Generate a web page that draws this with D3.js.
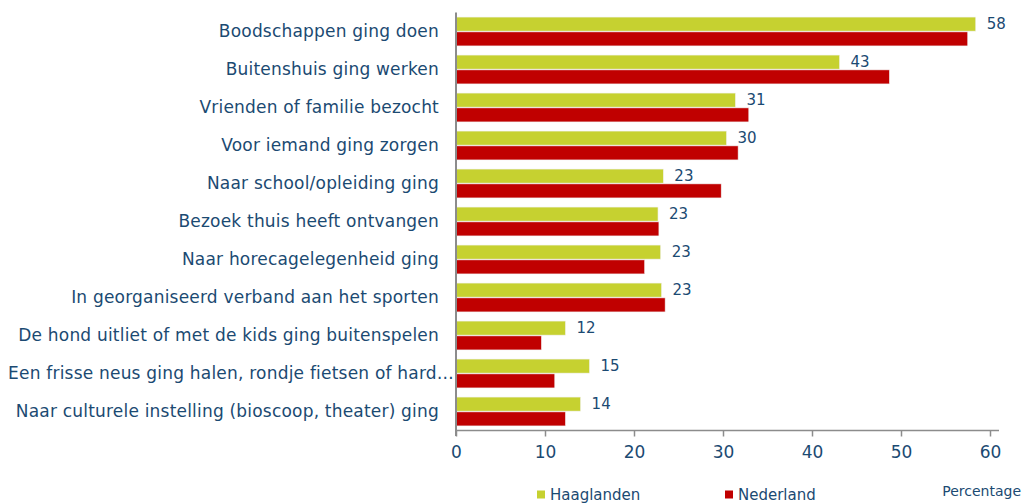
<!DOCTYPE html>
<html>
<head>
<meta charset="utf-8">
<script src="https://cdn.jsdelivr.net/npm/d3@7"></script>
<style>
  body { margin: 0; background: #fff; }
  svg { font-family: 'DejaVu Sans', Verdana, sans-serif; }
</style>
</head>
<body>
<div class="graphic_container"></div>
<script>
// categories, top to bottom
const categories = [
  'Boodschappen ging doen',
  'Buitenshuis ging werken',
  'Vrienden of familie bezocht',
  'Voor iemand ging zorgen',
  'Naar school/opleiding ging',
  'Bezoek thuis heeft ontvangen',
  'Naar horecagelegenheid ging',
  'In georganiseerd verband aan het sporten',
  'De hond uitliet of met de kids ging buitenspelen',
  'Een frisse neus ging halen, rondje fietsen of hard\u2026',
  'Naar culturele instelling (bioscoop, theater) ging'
];

const seriesNames = ['Haaglanden', 'Nederland'];
const haaglanden = [58.4, 43.1, 31.4, 30.4, 23.3, 22.7, 23.0, 23.1, 12.3, 15.0, 14.0];
const nederland = [57.5, 48.7, 32.9, 31.7, 29.8, 22.8, 21.2, 23.5, 9.6, 11.1, 12.3];
const xTicks = [0, 10, 20, 30, 40, 50, 60];

const colors = {Haaglanden: '#c6d130', Nederland: '#c00000'};
const textColor = '#1b4a72';

const width = 1023, height = 503;

const svg = d3.select('.graphic_container')
  .append('svg')
  .attr('width', width)
  .attr('height', height);

const x = d3.scaleLinear()
  .domain([0, 60])
  .range([456, 990]);

const y = d3.scaleBand()
  .domain(categories)
  .range([12.5, 430.5])
  .paddingInner(0.24)
  .paddingOuter(0.12);

const ySub = d3.scaleBand()
  .domain(seriesNames)
  .range([0, y.bandwidth()])
  .paddingInner(0.05);

const rows = categories.map((c, i) => ({
  name: c,
  values: [
    {series: 'Haaglanden', value: haaglanden[i]},
    {series: 'Nederland', value: nederland[i]}
  ]
}));

//bars
const groups = svg.append('g')
  .selectAll('g')
  .data(rows)
  .join('g')
  .attr('transform', d => `translate(0,${y(d.name)})`);

groups.selectAll('rect')
  .data(d => d.values)
  .join('rect')
  .attr('x', x(0))
  .attr('y', d => ySub(d.series))
  .attr('width', d => x(d.value) - x(0))
  .attr('height', ySub.bandwidth())
  .style('fill', d => colors[d.series])
  .style('stroke', '#f2f2f2')
  .style('stroke-width', 0.6);

//value labels, only Haaglanden
groups.append('text')
  .attr('x', d => x(d.values[0].value) + 11)
  .attr('y', ySub('Haaglanden') + ySub.bandwidth() / 2)
  .attr('dy', '0.36em')
  .style('font-size', '15px')
  .style('fill', textColor)
  .text(d => d3.format('.0f')(d.values[0].value));

//x axis
const xAxis = svg.append('g')
  .attr('transform', 'translate(0,430.5)')
  .call(d3.axisBottom(x).tickValues(xTicks).tickSize(6).tickPadding(9).tickSizeOuter(0));

xAxis.select('.domain')
  .attr('d', `M${x(0)},0H999`)
  .style('stroke', '#8c8c8c')
  .style('stroke-width', 1.5);
xAxis.selectAll('.tick line').style('stroke', '#8c8c8c').style('stroke-width', 1.5);
xAxis.selectAll('.tick text')
  .style('font-family', "'DejaVu Sans', Verdana, sans-serif")
  .style('font-size', '17px')
  .style('fill', textColor);

//y axis
const yAxis = svg.append('g')
  .attr('transform', `translate(${x(0)},0)`)
  .call(d3.axisLeft(y).tickSize(0).tickPadding(17).tickSizeOuter(0));

yAxis.select('.domain')
  .attr('d', 'M0,12.5V436')
  .style('stroke', '#8c8c8c')
  .style('stroke-width', 2);
yAxis.selectAll('.tick text')
  .style('font-family', "'DejaVu Sans', Verdana, sans-serif")
  .style('font-size', '17px')
  .style('letter-spacing', '0.2px')
  .style('fill', textColor);

//the truncated label runs up to the axis and starts near the left edge
yAxis.selectAll('.tick text').each(function(d) {
  if (d.endsWith('\u2026')) {
    d3.select(this)
      .attr('x', -2)
      .attr('textLength', 446)
      .attr('lengthAdjust', 'spacing');
  } else if (this.getComputedTextLength() > 431) {
    d3.select(this).attr('textLength', 431).attr('lengthAdjust', 'spacingAndGlyphs');
  }
});

//legend
const legend = svg.append('g');
const legendX = {Haaglanden: 537, Nederland: 725};
seriesNames.forEach(s => {
  legend.append('rect')
    .attr('x', legendX[s])
    .attr('y', 490.5)
    .attr('width', 8)
    .attr('height', 8)
    .style('fill', colors[s]);
  legend.append('text')
    .attr('x', legendX[s] + 13)
    .attr('y', 500)
    .style('font-size', '15px')
    .style('fill', textColor)
    .text(s);
});

svg.append('text')
  .attr('x', 1021)
  .attr('y', 496)
  .attr('text-anchor', 'end')
  .style('font-size', '14px')
  .style('fill', textColor)
  .text('Percentage');
</script>
</body>
</html>
